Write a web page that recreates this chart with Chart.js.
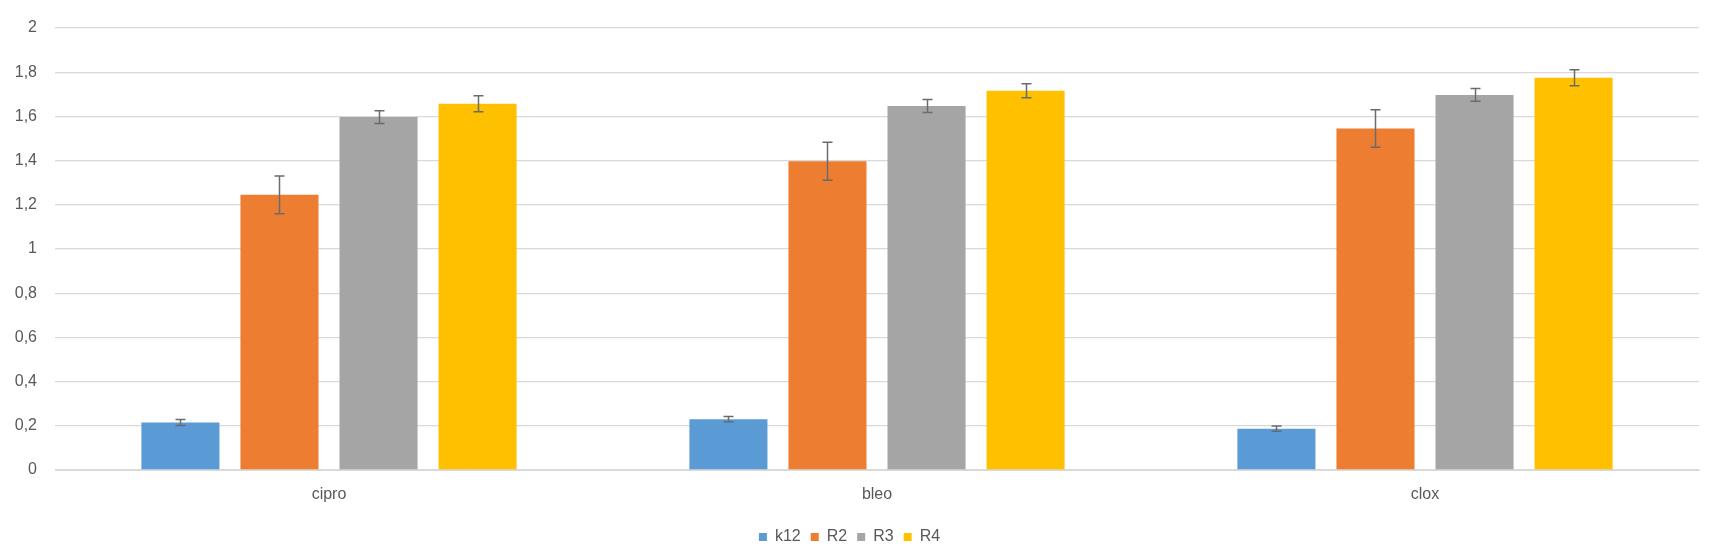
<!DOCTYPE html>
<html>
<head>
<meta charset="utf-8">
<script src="https://cdn.jsdelivr.net/npm/chart.js@4"></script>
<style>
  html, body { margin: 0; padding: 0; background: #fff; }
  #wrap { width: 1714px; height: 552px; }
</style>
</head>
<body>
<div id="wrap"><canvas id="chart" width="1714" height="552"></canvas></div>
<script>
// chart data
const categories = ['cipro', 'bleo', 'clox'];
const seriesNames = ['k12', 'R2', 'R3', 'R4'];
const k12 = [0.215, 0.23, 0.187];
const r2 = [1.245, 1.397, 1.545];
const r3 = [1.597, 1.647, 1.697];
const r4 = [1.657, 1.716, 1.775];
const k12Err = [0.014, 0.012, 0.012];
const r2Err = [0.085, 0.086, 0.085];
const r3Err = [0.029, 0.029, 0.029];
const r4Err = [0.036, 0.032, 0.036];
const yTicks = [0, 0.2, 0.4, 0.6, 0.8, 1, 1.2, 1.4, 1.6, 1.8, 2];

const colors = ['#5B9BD5', '#ED7D31', '#A5A5A5', '#FFC000'];
const values = [k12, r2, r3, r4];
const errors = [k12Err, r2Err, r3Err, r4Err];

// draw error bars on top of each bar
const errorBars = {
  id: 'errorBars',
  afterDatasetsDraw(chart) {
    const ctx = chart.ctx;
    const y = chart.scales.y;
    ctx.save();
    ctx.strokeStyle = '#6b6b6b';
    ctx.lineWidth = 1.5;
    chart.data.datasets.forEach((ds, i) => {
      const meta = chart.getDatasetMeta(i);
      meta.data.forEach((bar, j) => {
        const v = ds.data[j], e = ds.errors[j];
        const top = y.getPixelForValue(v + e);
        const bot = y.getPixelForValue(v - e);
        const x = Math.round(bar.x) + 0.5;
        ctx.beginPath();
        ctx.moveTo(x, top); ctx.lineTo(x, bot);
        ctx.moveTo(x - 5, top); ctx.lineTo(x + 5, top);
        ctx.moveTo(x - 5, bot); ctx.lineTo(x + 5, bot);
        ctx.stroke();
      });
    });
    ctx.restore();
  }
};

Chart.defaults.font.family = '"Liberation Sans", Arial, sans-serif';
Chart.defaults.font.size = 16;
Chart.defaults.color = '#595959';

new Chart(document.getElementById('chart').getContext('2d'), {
  type: 'bar',
  data: {
    labels: categories,
    datasets: seriesNames.map((name, i) => ({
      label: name,
      data: values[i],
      errors: errors[i],
      backgroundColor: colors[i],
      categoryPercentage: 0.723,
      barPercentage: 0.788
    }))
  },
  options: {
    responsive: false,
    animation: false,
    layout: { padding: { top: 28, right: 15, left: 0, bottom: -3 } },
    plugins: {
      legend: {
        position: 'bottom',
        labels: { boxWidth: 8, boxHeight: 8, padding: 10, color: '#595959' }
      },
      tooltip: { enabled: false }
    },
    scales: {
      x: {
        afterFit(scale) { scale.height = 49; },
        grid: { display: false },
        border: { color: '#d9d9d9', width: 1 },
        ticks: { padding: 7, color: '#595959' }
      },
      y: {
        min: 0,
        max: 2,
        afterFit(scale) { scale.width = 55; },
        afterBuildTicks(scale) { scale.ticks = yTicks.map(v => ({ value: v })); },
        border: { display: false },
        grid: { color: '#d9d9d9', lineWidth: 1.3, drawTicks: false },
        ticks: {
          padding: 18,
          color: '#595959',
          callback: v => String(Math.round(v * 10) / 10).replace('.', ',')
        }
      }
    }
  },
  plugins: [errorBars]
});
</script>
</body>
</html>
